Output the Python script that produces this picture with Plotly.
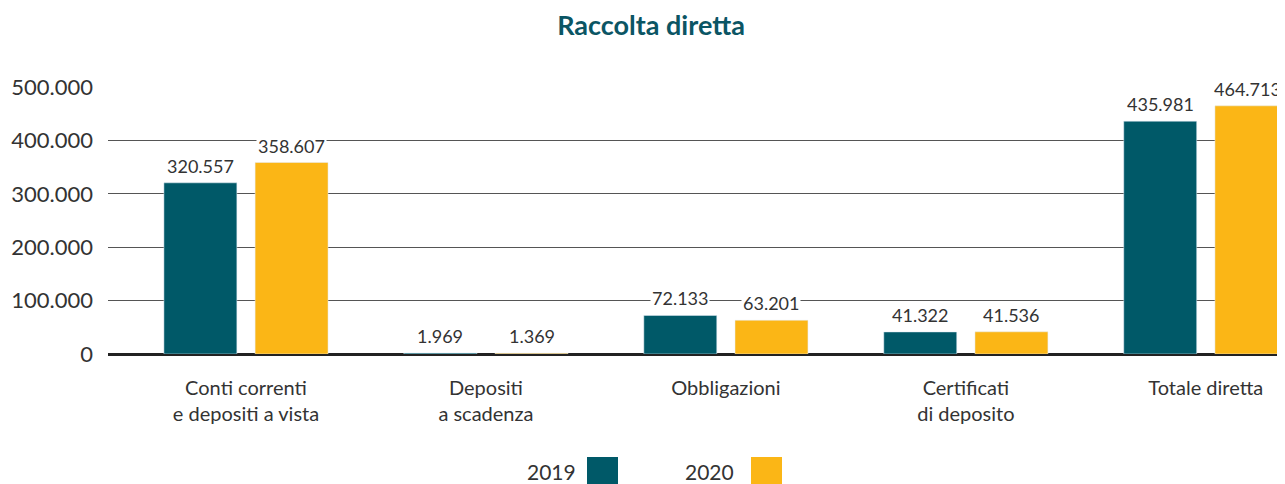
import plotly.graph_objects as go

categorie = ["Conti correnti<br>e depositi a vista", "Depositi<br>a scadenza", "Obbligazioni",
             "Certificati<br>di deposito", "Totale diretta"]
valori_2019 = [320557, 1969, 72133, 41322, 435981]
valori_2020 = [358607, 1369, 63201, 41536, 464713]
anni = ["2019", "2020"]
colori = ["#005968", "#fbb616"]

FONT = "Lato"
TESTO = "#333333"

# la pagina ha 8px di margine del body: la figura è più piccola di 8px
W, H = 1277, 476

fig = go.Figure()
for anno, valori, colore in zip(anni, [valori_2019, valori_2020], colori):
    fig.add_trace(go.Bar(x=categorie, y=valori, name=anno, marker_color=colore,
                         cliponaxis=False, showlegend=False))

# etichette dei valori sopra le barre, con fondo bianco che interrompe la griglia
for valori, off in zip([valori_2019, valori_2020], [-0.19, 0.19]):
    for i, v in enumerate(valori):
        ultimo = (i == len(valori) - 1 and off > 0)  # l'ultima tocca il bordo destro
        fig.add_annotation(x=i + off, y=v, text=f"{v:,}".replace(",", "."),
                           showarrow=False, yanchor="bottom", yshift=4,
                           xshift=-4 if ultimo else 0,
                           bgcolor="white", borderpad=1,
                           font=dict(size=18, color=TESTO, family=FONT))

fig.update_layout(
    width=W, height=H,
    margin=dict(l=100, r=0, t=79, b=130, autoexpand=False),
    plot_bgcolor="white", paper_bgcolor="white",
    barmode="group", bargap=0.24, bargroupgap=0.2,
    separators=",.",
    font=dict(family=FONT, color=TESTO),
    title=dict(text="<b>Raccolta diretta</b>", x=643 / W, xref="container", xanchor="center",
               y=1 - 18 / H, yref="container", yanchor="middle",
               font=dict(size=27, color="#0b5564", family=FONT)),
)
fig.update_xaxes(range=[-0.575, 4.33], tickfont=dict(size=20, color=TESTO), ticks="",
                 showline=False, ticklabelstandoff=20, automargin=False)
fig.update_yaxes(range=[0, 500000], tickvals=[0, 100000, 200000, 300000, 400000, 500000],
                 tickformat=",", tickfont=dict(size=22, color=TESTO),
                 showgrid=True, gridcolor="#555555", gridwidth=1.3,
                 zeroline=True, zerolinecolor="#222222", zerolinewidth=3,
                 ticklabelstandoff=14, automargin=False)

# legenda: etichetta a sinistra, quadrato a destra
pos_leg = [(525, 587), (683, 751)]
for (tx, sx), anno, colore in zip(pos_leg, anni, colori):
    fig.add_annotation(text=anno, xref="paper", yref="paper",
                       x=(tx - 108) / 1177, y=(354 - 471) / 267, xanchor="left", yanchor="middle",
                       showarrow=False, font=dict(size=21, color=TESTO, family=FONT))
    fig.add_shape(type="rect", xref="paper", yref="paper",
                  x0=(sx - 108) / 1177, x1=(sx + 31 - 108) / 1177,
                  y0=(354 - 457) / 267, y1=(354 - 486) / 267,
                  fillcolor=colore, line_width=0)

fig.write_html("out.html")
